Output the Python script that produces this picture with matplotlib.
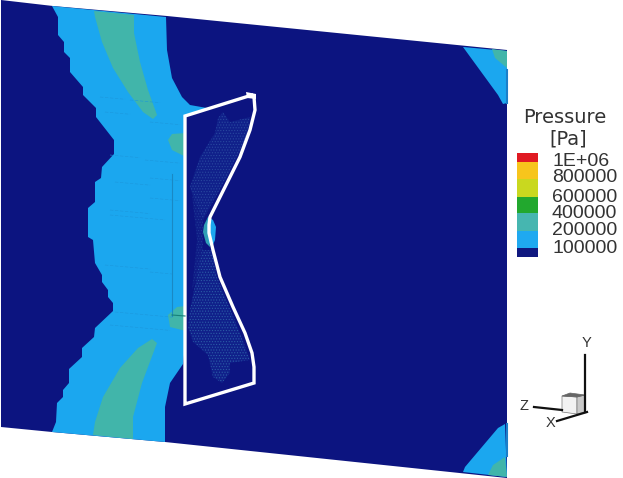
import matplotlib
matplotlib.use('Agg')
import matplotlib.pyplot as plt
from matplotlib.patches import Polygon

plt.rcParams['font.family'] = ['Liberation Sans', 'DejaVu Sans']
plt.rcParams['hatch.linewidth'] = 0.5

navy = '#0c1480'
blue = '#1ba7ef'
teal = '#41b5aa'

# contour bands
plate = [(1, 0), (53, 6), (167, 16), (507, 50), (507, 478), (165, 442), (52, 432), (1, 427)]
band_left = [(52, 6), (58, 17), (58, 35), (64, 42), (64, 52), (70, 58), (70, 72), (83, 87), (83, 95),
             (96, 108), (96, 117), (114, 140), (114, 154), (102, 167), (101, 178), (95, 182), (95, 202),
             (88, 208), (88, 237), (93, 240), (95, 263), (102, 275), (102, 282), (108, 290), (108, 297),
             (113, 303), (113, 311), (95, 328), (94, 337), (82, 348), (82, 357), (69, 369), (69, 383),
             (63, 390), (63, 397), (57, 403), (56, 422), (52, 432), (165, 442), (165, 407), (170, 383),
             (183, 364), (190, 300), (190, 150), (207, 108), (190, 105), (182, 97), (172, 78), (167, 50),
             (166, 17)]
teal_top = [(94, 11), (134, 15), (134, 33), (140, 62), (148, 90), (157, 115), (153, 119), (143, 112),
            (128, 92), (113, 68), (102, 42), (95, 17)]
teal_bottom = [(93, 435), (133, 439), (133, 417), (142, 383), (157, 343), (152, 339), (138, 348),
               (120, 368), (103, 397), (95, 422)]
blob_top = [(186, 133), (172, 134), (168, 140), (172, 150), (186, 157)]
blob_bottom = [(186, 306), (177, 307), (168, 315), (170, 327), (186, 331)]
corner_tr = [(463, 47), (507, 51), (507, 103), (503, 104), (498, 95)]
corner_tr_teal = [(492, 49), (495, 58), (507, 68), (507, 51)]
corner_br = [(505, 424), (498, 428), (465, 467), (463, 472), (507, 477)]
corner_br_teal = [(488, 475), (493, 465), (505, 457), (507, 477)]

# white outline of the slice
outline = [(185, 403), (185, 116), (252, 95), (254, 97), (255, 110), (250, 130), (240, 157), (227, 183),
           (215, 207), (210, 217), (209, 225), (209, 233), (213, 250), (220, 277), (233, 307), (245, 333),
           (252, 353), (254, 367), (254, 383), (185, 404)]
tip = [(246, 92), (256, 94), (256, 99), (247, 98)]
mesh_up = [(223, 112), (230, 122), (250, 117), (247, 137), (227, 177), (210, 207), (203, 220), (196, 205),
           (190, 187), (200, 157), (215, 133), (218, 118)]
mesh_mid = [(192, 195), (203, 220), (203, 245), (202, 262), (192, 290), (197, 240)]
mesh_low = [(202, 250), (212, 250), (217, 277), (240, 333), (250, 360), (230, 363), (230, 373), (222, 383),
            (213, 377), (208, 355), (193, 342), (188, 327), (190, 310), (200, 260)]
centre_blue = [(208, 217), (213, 220), (216, 227), (215, 240), (212, 247), (209, 243), (207, 230)]
centre_teal = [(208, 217), (204, 225), (203, 232), (206, 243), (210, 247), (209, 230)]

# faint grid marks in the left band, as x0, x1, y
grid_marks = [(100, 125, 97), (130, 160, 100), (105, 130, 112), (150, 180, 122), (110, 140, 155),
              (145, 180, 160), (115, 150, 182), (150, 180, 178), (110, 150, 210), (150, 180, 198),
              (110, 165, 215), (105, 150, 265), (150, 172, 272), (115, 172, 312), (110, 170, 325)]
mesh_line_x = [172, 172]
mesh_line_y = [174, 316]

# legend
legend_title = 'Pressure'
legend_unit = '[Pa]'
legend_labels = ['1E+06', '800000', '600000', '400000', '200000', '100000']
legend_label_y = [162, 178, 197, 213, 230, 248]
legend_edges = [153, 162, 179, 197, 213, 231, 248, 257]
legend_colors = ['#e01a22', '#f7c51c', '#c9d81f', '#22a82e', '#46b6b0', '#1fa9f0', '#10187f']

fig = plt.figure(figsize=(6.23, 4.78), dpi=100)
ax = fig.add_axes([0, 0, 1, 1])
ax.set_xlim(0, 623)
ax.set_ylim(478, 0)
ax.axis('off')

ax.add_patch(Polygon(plate, fc=navy, ec='none'))
ax.add_patch(Polygon(band_left, fc=blue, ec='none'))
for shape in [teal_top, teal_bottom, blob_top, blob_bottom]:
    ax.add_patch(Polygon(shape, fc=teal, ec='none'))
for x0, x1, y in grid_marks:
    ax.plot([x0, x1], [y, y + (x1 - x0) * 0.09], color='#1b97dc', lw=0.4, ls=(0, (6, 3)))
ax.plot(mesh_line_x, mesh_line_y, color='#1a88c4', lw=0.8)
ax.plot([172, 185], [315, 316], color='#17807a', lw=0.8)

ax.add_patch(Polygon(corner_tr, fc=blue, ec='none'))
ax.add_patch(Polygon(corner_tr_teal, fc=teal, ec='none'))
ax.add_patch(Polygon(corner_br, fc=blue, ec='none'))
ax.add_patch(Polygon(corner_br_teal, fc=teal, ec='none'))
ax.plot([506.5, 506.5], [70, 103], color='#1c7fc9', lw=1.5)
ax.plot([506.5, 506.5], [424, 456], color='#1c7fc9', lw=1.5)

# slice: dark fill, stippled mesh, hot spot
ax.add_patch(Polygon(outline, fc=navy, ec='none'))
ax.add_patch(Polygon(mesh_up, fc='#10208a', ec='#28489f', lw=0, hatch='......'))
ax.add_patch(Polygon(mesh_mid, fc='#0f1c86', ec='#1f3a96', lw=0, hatch='......'))
ax.add_patch(Polygon(mesh_low, fc='#10208a', ec='#2a5ca6', lw=0, hatch='......'))
ax.add_patch(Polygon(centre_teal, fc='#2f9fb5', ec='none'))
ax.add_patch(Polygon(centre_blue, fc=blue, ec='none'))
ax.add_patch(Polygon(outline, fc='none', ec='white', lw=2.4, joinstyle='miter'))
ax.add_patch(Polygon(tip, fc='white', ec='none'))

# legend
ax.text(565, 117, legend_title, fontsize=14, family='DejaVu Sans', ha='center', va='center', color='#333333')
ax.text(568, 139, legend_unit, fontsize=14, family='DejaVu Sans', ha='center', va='center', color='#333333')
for i in range(len(legend_colors)):
    ax.add_patch(Polygon([(517, legend_edges[i]), (538, legend_edges[i]),
                          (538, legend_edges[i + 1]), (517, legend_edges[i + 1])],
                         fc=legend_colors[i], ec='none'))
for label, y in zip(legend_labels, legend_label_y):
    ax.text(552, y, label, fontsize=14, ha='left', va='center', color='#333333')

# axis triad
ax.add_patch(Polygon([(562, 396), (577, 397), (577, 414), (562, 412)], fc='#f2f2f2', ec='#777777', lw=0.5))
ax.add_patch(Polygon([(577, 397), (585, 395), (585, 412), (577, 414)], fc='#c9c9c9', ec='#777777', lw=0.5))
ax.add_patch(Polygon([(562, 396), (570, 393), (585, 395), (577, 397)], fc='#666666', ec='#666666', lw=0.5))
ax.plot([585, 585], [355, 412], color='#111111', lw=1.6)
ax.plot([534, 562], [407, 410], color='#111111', lw=1.6)
ax.plot([557, 587], [421, 412], color='#111111', lw=1.6)
ax.text(586, 343, 'Y', fontsize=10.5, ha='center', va='center', color='#333333')
ax.text(524, 406, 'Z', fontsize=10.5, ha='center', va='center', color='#333333')
ax.text(551, 423, 'X', fontsize=10.5, ha='center', va='center', color='#333333')

plt.savefig('out.png', dpi=100)
